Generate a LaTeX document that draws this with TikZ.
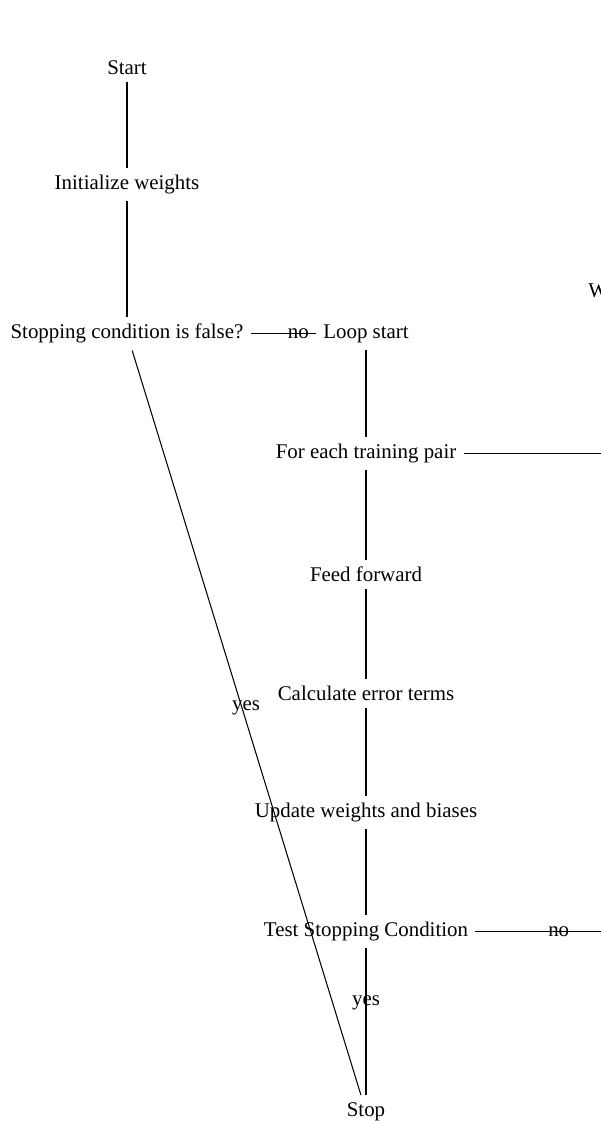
\documentclass[tikz,border=0pt]{standalone}
\usepackage{fontspec}
\setmainfont{Liberation Serif}
\usetikzlibrary{arrows,shapes}
\tikzstyle{stage}=[inner sep=0.3333em]
\tikzstyle{link} = [draw,line width=0.5pt]
\tikzstyle{answer} = [font=\normalsize]

\begin{document}
\begin{tikzpicture}[x=0.4785pt, y=-0.4785pt]
    \clip (0,0) rectangle (601,1121);
    % First the left column of steps
    \foreach \pos/ \name/ \txt in {{(127,67.5)/start/Start},{(127,184.5)/init/Initialize weights},{(127,333.5)/cond/Stopping condition is false?}}
        \node[stage] (\name) at \pos {\txt};

    % Then the loop column
    \foreach \pos/ \name/ \txt in {{(366,333.5)/loop/Loop start},{(366,453.5)/pair/For each training pair},{(366,574.5)/feed/Feed forward},{(366,693.5)/error/Calculate error terms},{(366,812.5)/update/Update weights and biases},{(366,931.5)/test/Test Stopping Condition},{(366,1111.5)/stop/Stop}}
        \node[stage] (\name) at \pos {\txt};

    \node[stage, anchor=west] (w) at (581,291) {W};
    \coordinate (pairend) at (650,453.5);
    \coordinate (testend) at (642,931.5);

    % Connect the steps
    \foreach \source/ \dest in {start/init, init/cond, loop/pair, pair/feed, feed/error, error/update, update/test}
        \path[link] (\source) -- (\dest);

    \path[link] (cond) -- node[answer,pos=0.73] {no} (loop);
    \path[link] (cond) -- node[answer,pos=0.48,xshift=2pt] {yes} (stop);
    \path[link] (test) -- node[answer,pos=0.37] {yes} (stop);
    \path[link] (test) -- node[answer] {no} (testend);
    \path[link] (pair) -- (pairend);
\end{tikzpicture}
\end{document}
